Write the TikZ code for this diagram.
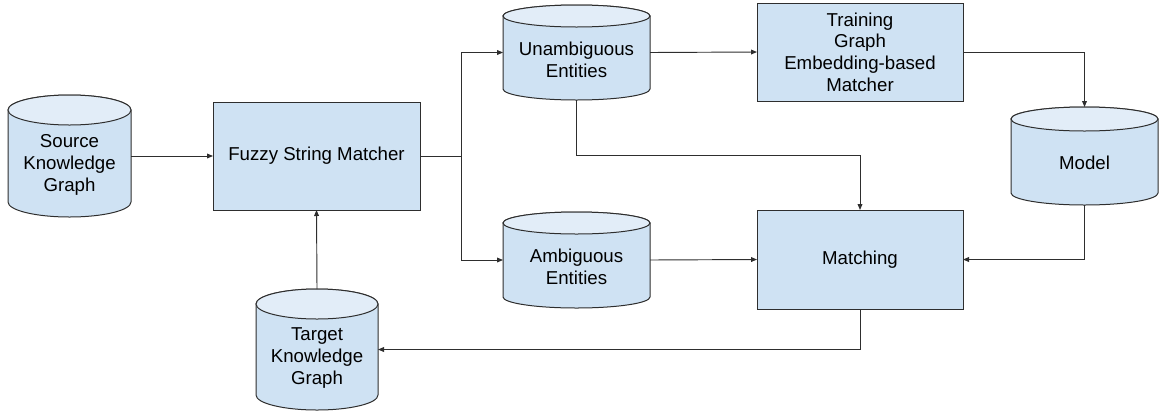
\documentclass[tikz,border=0pt]{standalone}
\usepackage{fontspec}
\setmainfont{Liberation Sans}
\usetikzlibrary{arrows.meta,calc}
\definecolor{bodyc}{HTML}{CFE2F3}
\definecolor{endc}{HTML}{E2EDF8}
\definecolor{linec}{HTML}{2E2E2E}
\tikzset{
  sz/.style 2 args={minimum width=#1*0.75pt, minimum height=#2*0.75pt},
  procbox/.style={draw=linec, fill=bodyc, line width=0.75pt, inner sep=0pt, outer sep=0pt,
    align=center, font=\fontsize{14}{16.3}\selectfont},
  cylframe/.style={inner sep=0pt, outer sep=0pt},
  cyltext/.style={align=center, inner sep=0pt, font=\fontsize{14}{16.3}\selectfont},
  conn/.style={draw=linec, line width=0.7pt},
  arr/.style={conn, -{Triangle[length=4.5pt,width=3.6pt]}},
}
\newcommand\drawcyl[2]{%
  \path[draw=linec, fill=bodyc, line width=0.75pt]
    let \p1=(#1.north west), \p2=(#1.south east), \n1={(\x2-\x1)/2}, \n2={#2*0.75pt} in
    (\x1,\y1-\n2) -- (\x1,\y2+\n2)
    arc[start angle=180, end angle=360, x radius=\n1, y radius=\n2]
    -- (\x2,\y1-\n2)
    arc[start angle=0, end angle=180, x radius=\n1, y radius=\n2] -- cycle;
  \path[draw=linec, fill=endc, line width=0.75pt]
    let \p1=(#1.north west), \p2=(#1.south east), \n1={(\x2-\x1)/2}, \n2={#2*0.75pt} in
    ({(\x1+\x2)/2},\y1-\n2) ellipse[x radius=\n1, y radius=\n2];
}
\begin{document}
\begin{tikzpicture}[x=0.75pt, y=-0.75pt]
\useasboundingbox (0,0) rectangle (1159,411);
% cylinders (frames)
\node[cylframe, sz={123}{122}] (src) at (69.5,156) {};
\node[cylframe, sz={147}{95}] (unamb) at (576.5,52.5) {};
\node[cylframe, sz={147}{96}] (amb) at (576.5,260) {};
\node[cylframe, sz={147}{98}] (model) at (1084.5,156) {};
\node[cylframe, sz={122}{121}] (tgt) at (317,349.5) {};
\drawcyl{src}{15}
\drawcyl{unamb}{11}
\drawcyl{amb}{11}
\drawcyl{model}{12}
\drawcyl{tgt}{15}
\node[cyltext] (srct) at (69.5,165) {Source\\Knowledge\\Graph};
\node[cyltext] (unambt) at (576.5,60) {Unambiguous\\Entities};
\node[cyltext] (ambt) at (576.5,267) {Ambiguous\\Entities};
\node[cyltext] (modelt) at (1084.5,163) {Model};
\node[cyltext] (tgtt) at (317,358) {Target\\Knowledge\\Graph};
% boxes
\node[procbox, sz={207}{108}] (fuzzy) at (316.5,156) {Fuzzy String Matcher};
\node[procbox, sz={206}{98}] (train) at (860,52) {Training\\Graph\\Embedding-based\\Matcher};
\node[procbox, sz={206}{99}] (match) at (860,259.5) {Matching};
% connectors
\coordinate (split) at (461.5,156);
\coordinate (ut) at (860,155);
\draw[arr] (src.east) -- (fuzzy.west);
\draw[conn] (fuzzy.east) -- (split);
\draw[arr] (split) |- (unamb.west);
\draw[arr] (split) |- (amb.west);
\draw[arr] (unamb.east) -- (train.west);
\draw[arr] (train.east) -| (model.north);
\draw[arr] (unamb.south) |- (ut) -- (match.north);
\draw[arr] (amb.east) -- (match.west);
\draw[arr] (model.south) |- (match.east);
\draw[arr] (match.south) |- (tgt.east);
\draw[arr] (tgt.north) -- (fuzzy.south);
\end{tikzpicture}
\end{document}
